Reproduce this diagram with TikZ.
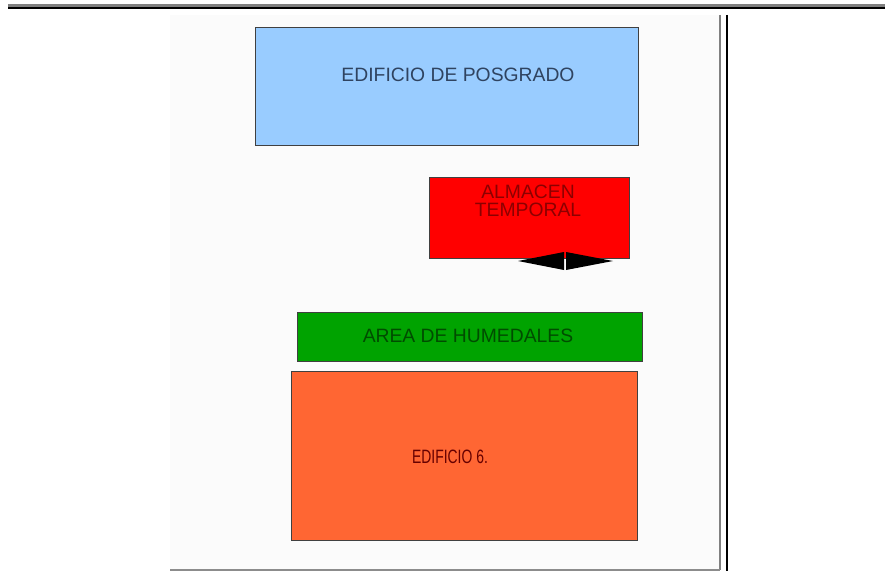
\documentclass[tikz,border=0pt]{standalone}
\usepackage{fontspec}
\setmainfont{Liberation Sans}
\usetikzlibrary{positioning,calc}
\definecolor{azulclaro}{HTML}{99CCFF}
\definecolor{rojo}{HTML}{FF0000}
\definecolor{verde}{HTML}{00A300}
\definecolor{naranja}{HTML}{FF6633}
\definecolor{panel}{HTML}{FBFBFB}
\definecolor{textoazul}{HTML}{2F4360}
\tikzset{
zonanode/.style={rectangle, draw=black!75, thin, inner sep=0pt},
textonode/.style={font=\fontsize{11}{12.5}\selectfont, align=center, inner sep=0pt}
}

\begin{document}
\begin{tikzpicture}[x=0.02cm, y=-0.02cm]
\useasboundingbox (0,0) rectangle (885,571);

%marco de la hoja
\fill[panel] (170,15) rectangle (721,570);
\fill[black!50] (8,4) rectangle (885,7);
\fill[black] (8,7) rectangle (885,9.5);
\draw[black!50, line width=1.2pt] (720,15) -- (720,570);
\draw[black!45, line width=0.8pt] (170,570) -- (720,570);
\draw[black, line width=0.9pt] (727,15) -- (727,571);

%zonas
\node[zonanode, fill=azulclaro, minimum width=7.66cm, minimum height=2.36cm] (posgrado) at(446.5,86) {};
\node[zonanode, fill=rojo, minimum width=4cm, minimum height=1.62cm] (almacen) at(529,217.5) {};
\node[zonanode, fill=verde, minimum width=6.9cm, minimum height=0.98cm] (humedales) at(469.5,336.5) {};
\node[zonanode, fill=naranja, minimum width=6.92cm, minimum height=3.38cm] (edificio) at(464,455.5) {};

%textos
\node[textonode, text=textoazul] (tposgrado) at(458,75) {EDIFICIO DE POSGRADO};
\node[textonode, text=red!55!black, font=\fontsize{11}{10}\selectfont] (talmacen) at(528,201) {ALMACEN\\TEMPORAL};
\node[textonode, text=green!30!black] (thumedales) at(468,336) {AREA DE HUMEDALES};
\node[textonode, text=red!40!black] (tedificio) at(450,457) {\scalebox{0.72}[1]{EDIFICIO 6.}};

%flecha doble bajo el almacen
\coordinate (flecha) at(565,261);
\fill[black] ($(flecha)+(-47,0)$) -- ($(flecha)+(-1,-9)$) -- ($(flecha)+(-1,9)$) -- cycle;
\fill[black] ($(flecha)+(48,0)$) -- ($(flecha)+(1,-9)$) -- ($(flecha)+(1,9)$) -- cycle;
\end{tikzpicture}
\end{document}
